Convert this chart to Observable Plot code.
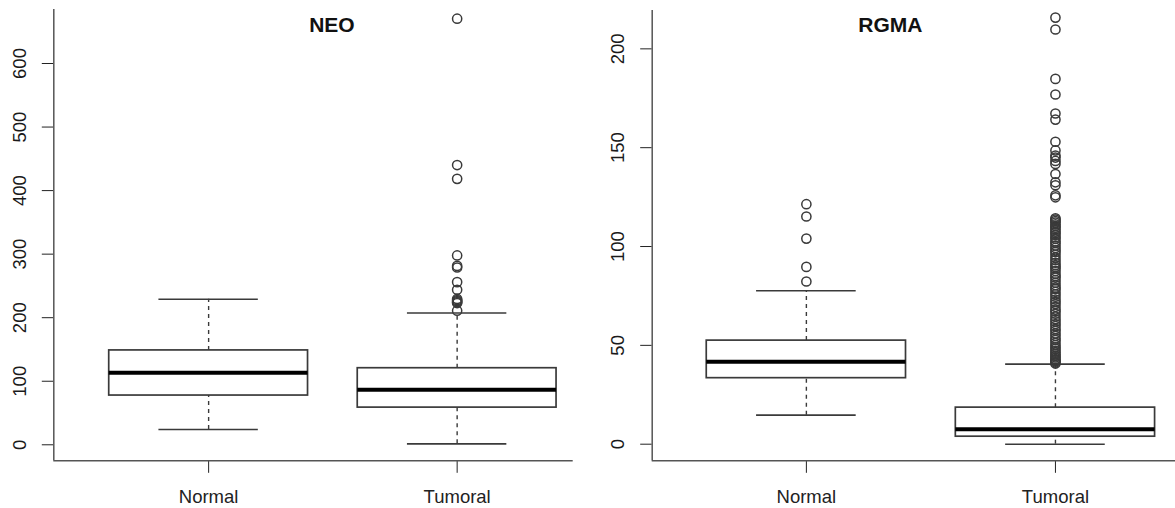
<!DOCTYPE html>
<html><head><meta charset="utf-8">
<script src="https://cdn.jsdelivr.net/npm/d3@7"></script>
<script src="https://cdn.jsdelivr.net/npm/@observablehq/plot@0.6"></script>
<style>
body{margin:0;background:#fff;}
#wrap{display:flex;width:1175px;height:508px;overflow:hidden;}
svg{display:block;}
</style>
</head><body><div id="wrap"></div>
<script>
const groups = ["Normal", "Tumoral"];

// NEO panel
const neoLow = [24, 1.5];
const neoQ1 = [77.5, 58.5];
const neoMedian = [113.5, 86.5];
const neoQ3 = [148.5, 120.5];
const neoHigh = [229, 207.5];
const neoOutNormal = [];
const neoOutTumoral = [670.5, 440.2, 418.5, 298, 281.5, 279, 256, 244, 229.5, 227.5, 226, 224.5, 223, 211];
const neoTicks = [0, 100, 200, 300, 400, 500, 600];

// RGMA panel
const rgmaLow = [14.7, 0];
const rgmaQ1 = [33.4, 3.8];
const rgmaMedian = [41.7, 7.6];
const rgmaQ3 = [52.4, 18.5];
const rgmaHigh = [77.6, 40.5];
const rgmaOutNormal = [121.4, 115.2, 104, 89.7, 82.3];
const rgmaOutTumoral = [215.8, 209.8, 184.8, 176.9, 167.3, 164.2, 153, 148.6, 146, 145, 143.3, 141.8, 136.7, 132.5, 131, 125.9, 124.9,
  114.3, 113.6, 112.9, 112.1, 111.2, 110.4, 109.5, 108.8, 107.6, 106.9, 105.8, 104.7, 103.9, 102.6, 101.8, 100.5, 99.3, 98.1, 97.2, 95.9,
  94.4, 93.1, 91.8, 90.6, 89.7, 88.9, 87.6, 86.2, 85.1, 84.3, 83.0, 81.7, 80.4, 79.2, 78.5, 77.1, 75.8, 74.6, 73.2, 72.0, 70.9, 69.5,
  68.1, 67.3, 66.0, 64.6, 63.2, 62.1, 60.8, 59.7, 58.3, 57.4, 56.0, 54.8, 53.5, 52.6, 51.3, 50.1, 49.0, 48.2, 47.1, 46.3, 45.4, 44.6,
  43.9, 43.1, 42.5, 41.9, 41.3, 40.8];
const rgmaTicks = [0, 50, 100, 150, 200];

function panel(o) {
  const stats = groups.map((g, k) => ({g, i: k + 1, low: o.low[k], q1: o.q1[k], med: o.med[k], q3: o.q3[k], high: o.high[k]}));
  const outs = o.outliers.flatMap((arr, k) => arr.map(v => ({i: k + 1, v})));
  const axisColor = "#555", lineColor = "#3a3a3a";
  return Plot.plot({
    width: o.width, height: 508,
    marginLeft: o.marginLeft, marginRight: o.marginRight, marginTop: o.marginTop, marginBottom: 47.7,
    x: {type: "linear", domain: o.xDomain, ticks: [1, 2], tickFormat: d => groups[d - 1], tickSize: 12.5, tickPadding: 17, label: null},
    y: {domain: o.yDomain, ticks: o.ticks, tickSize: 11.5, tickFormat: () => "", label: null},
    style: {fontFamily: "'Liberation Sans', Arial, sans-serif", fontSize: "18.5px", color: "#222", background: "white", overflow: "visible"},
    marks: [
      Plot.ruleX([o.xDomain[0]], {stroke: axisColor, strokeWidth: 1.5}),
      Plot.ruleY([o.yDomain[0]], {stroke: axisColor, strokeWidth: 1.5}),
      Plot.text(o.ticks, {x: o.xDomain[0], y: d => d, text: d => String(d), rotate: -90, dx: -34,
        fontSize: 18.5, textAnchor: "middle", lineAnchor: "middle", fill: "#1a1a1a"}),
      Plot.ruleX(stats, {x: "i", y1: "q3", y2: "high", stroke: lineColor, strokeWidth: 1.4, strokeDasharray: "4,4"}),
      Plot.ruleX(stats, {x: "i", y1: "low", y2: "q1", stroke: lineColor, strokeWidth: 1.4, strokeDasharray: "4,4"}),
      Plot.ruleY(stats, {y: "high", x1: d => d.i - 0.2, x2: d => d.i + 0.2, stroke: lineColor, strokeWidth: 1.6}),
      Plot.ruleY(stats, {y: "low", x1: d => d.i - 0.2, x2: d => d.i + 0.2, stroke: lineColor, strokeWidth: 1.6}),
      Plot.rect(stats, {x1: d => d.i - 0.4, x2: d => d.i + 0.4, y1: "q1", y2: "q3", fill: "white", stroke: lineColor, strokeWidth: 1.7}),
      Plot.ruleY(stats, {y: "med", x1: d => d.i - 0.4, x2: d => d.i + 0.4, stroke: "black", strokeWidth: 4}),
      Plot.dot(outs, {x: "i", y: "v", r: 4.6, stroke: "#3a3a3a", strokeWidth: 1.5, fill: "none"}),
      Plot.text([o.title], {x: 1.5, frameAnchor: "top", dx: o.titleDx, dy: o.titleDy, lineAnchor: "top",
        fontWeight: "bold", fontSize: 21, fill: "#111"})
    ]
  });
}

const wrap = document.getElementById("wrap");
wrap.append(panel({
  title: "NEO", titleDx: -1, titleDy: 7.8,
  width: 590, marginLeft: 53.3, marginRight: 17.3, marginTop: 9,
  xDomain: [0.377, 2.467], yDomain: [-25.2, 685], ticks: neoTicks,
  low: neoLow, q1: neoQ1, med: neoMedian, q3: neoQ3, high: neoHigh,
  outliers: [neoOutNormal, neoOutTumoral]
}));
wrap.append(panel({
  title: "RGMA", titleDx: -40.5, titleDy: 6.8,
  width: 585, marginLeft: 61.7, marginRight: 0, marginTop: 10,
  xDomain: [0.381, 2.482], yDomain: [-8.4, 219.4], ticks: rgmaTicks,
  low: rgmaLow, q1: rgmaQ1, med: rgmaMedian, q3: rgmaQ3, high: rgmaHigh,
  outliers: [rgmaOutNormal, rgmaOutTumoral]
}));
</script>
</body></html>
